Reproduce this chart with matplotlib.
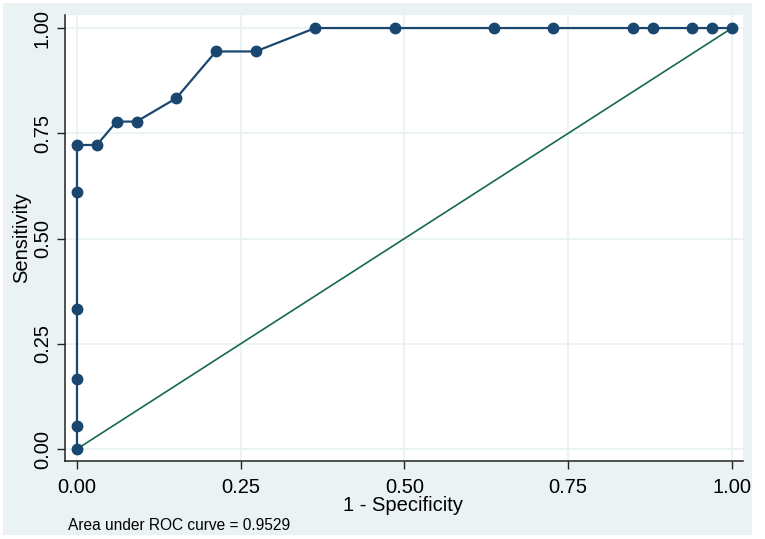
import matplotlib
matplotlib.use("Agg")
import matplotlib.pyplot as plt
from matplotlib.patches import Rectangle

plt.rcParams['font.family'] = ['Liberation Sans', 'DejaVu Sans']

# ROC data (1 - specificity, sensitivity)
fpr = [0.0, 0.0, 0.0, 0.0, 0.0, 0.0, 0.0303, 0.0606, 0.0909, 0.1515, 0.2121,
       0.2727, 0.3636, 0.4848, 0.6364, 0.7273, 0.8485, 0.8788, 0.9394, 0.9697, 1.0]
tpr = [0.0, 0.0556, 0.1667, 0.3333, 0.6111, 0.7222, 0.7222, 0.7778, 0.7778, 0.8333, 0.9444,
       0.9444, 1.0, 1.0, 1.0, 1.0, 1.0, 1.0, 1.0, 1.0, 1.0]
ref_x = [0.0, 1.0]
ref_y = [0.0, 1.0]
ticks = [0.0, 0.25, 0.5, 0.75, 1.0]
tick_labels = ["0.00", "0.25", "0.50", "0.75", "1.00"]
auc_text = "Area under ROC curve = 0.9529"

W, H = 765, 539
fig = plt.figure(figsize=(W / 100, H / 100), dpi=100, facecolor="white")
bg = "#EAF2F3"
fig.patches.append(Rectangle((3 / W, 4 / H), 749 / W, 532 / H, transform=fig.transFigure,
                             facecolor=bg, edgecolor="none", zorder=-10))

ax = fig.add_axes([65 / W, (H - 461) / H, (743 - 65) / W, (461 - 15) / H])
ax.set_facecolor("white")

navy = "#1A476F"
green = "#16694F"

ax.plot(ref_x, ref_y, color=green, lw=1.2, zorder=2)
ax.plot(fpr, tpr, color=navy, lw=1.6, marker="o", markersize=7.5,
        markerfacecolor=navy, markeredgecolor=navy, zorder=3, clip_on=False)

ax.set_xlim(-0.0183, 1.0168)
ax.set_ylim(-0.0285, 1.031)
ax.set_xticks(ticks)
ax.set_xticklabels(tick_labels)
ax.set_yticks(ticks)
ax.set_yticklabels(tick_labels, rotation=90, va="center")

ax.grid(True, color=bg, lw=1.3, zorder=0)
ax.set_axisbelow(True)

for s in ["top", "right"]:
    ax.spines[s].set_visible(False)
for s in ["left", "bottom"]:
    ax.spines[s].set_color("#222222")
    ax.spines[s].set_linewidth(1.1)

ax.tick_params(axis="both", length=6, width=1.0, color="#222222", labelsize=14.5,
               labelcolor="black")
ax.tick_params(axis="x", pad=6)
ax.tick_params(axis="y", pad=3.5)

ax.set_xlabel("1 - Specificity", fontsize=14.5)
ax.set_ylabel("Sensitivity", fontsize=14.5)
ax.xaxis.set_label_coords((403 - 65) / (743 - 65), (461 - 496) / (461 - 15))
ax.yaxis.set_label_coords((31 - 65) / (743 - 65), 0.5)

fig.text(68 / W, (H - 525) / H, auc_text, fontsize=11.2, ha="left", va="center")

fig.savefig("out.png", dpi=100, facecolor="white")
